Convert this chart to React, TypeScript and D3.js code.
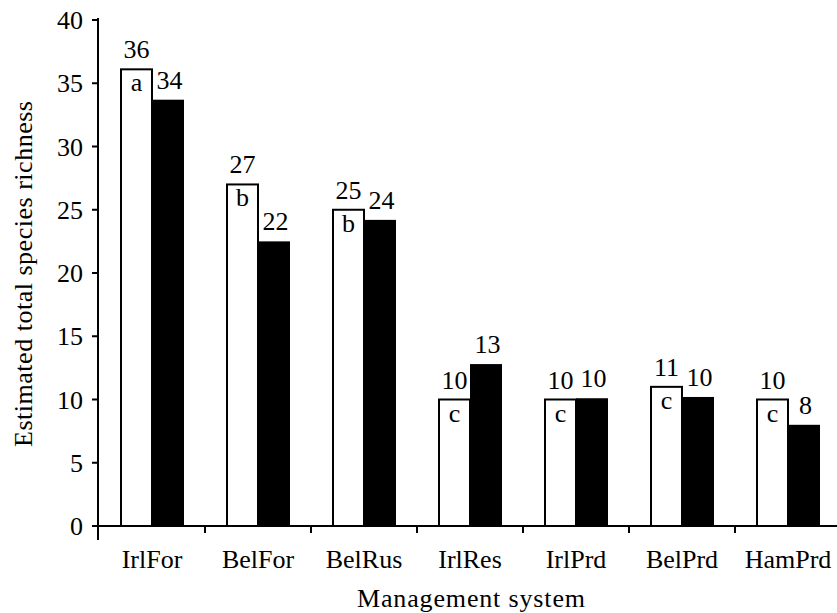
import React from "react";
import * as d3 from "d3";

const categories = ["IrlFor", "BelFor", "BelRus", "IrlRes", "IrlPrd", "BelPrd", "HamPrd"];
const whiteValues = [36.1, 27.0, 25.0, 10.0, 10.0, 11.0, 10.0];
const blackValues = [33.7, 22.5, 24.2, 12.8, 10.1, 10.2, 8.0];
const whiteLabels = ["36", "27", "25", "10", "10", "11", "10"];
const blackLabels = ["34", "22", "24", "13", "10", "10", "8"];
const groupLetters = ["a", "b", "b", "c", "c", "c", "c"];
const yTicks = [0, 5, 10, 15, 20, 25, 30, 35, 40];
const series = ["white", "black"];

const W = 837;
const H = 613;
const FONT = "'Liberation Serif', 'DejaVu Serif', serif";

export default function App() {
  const y = d3.scaleLinear().domain([0, 40]).range([526, 20]);
  const x = d3.scaleBand().domain(categories).range([99, 841]).paddingInner(0).paddingOuter(0);
  const bw = x.bandwidth();
  const inner = d3.scaleBand().domain(series).range([(bw - 62) / 2, (bw + 62) / 2]);
  const ib = inner.bandwidth();
  const axisX = 98;
  const y0 = y(0);
  const fs = 26;

  return (
    <svg width={W} height={H} style={{ position: "absolute", left: 0, top: 0, background: "#fff" }} fontFamily={FONT}>
      <rect x={0} y={0} width={W} height={H} fill="#fff" />
      {categories.map((c, i) => {
        const gx = x(c)!;
        const wx = gx + inner("white")!;
        const bx = gx + inner("black")!;
        const wy = y(whiteValues[i]);
        const by = y(blackValues[i]);
        return (
          <g key={c}>
            <rect x={bx} y={by} width={ib + 1} height={y0 - by} fill="#000" />
            <rect x={wx} y={wy} width={ib} height={y0 - wy} fill="#fff" stroke="#000" strokeWidth={2} />
            <text x={wx + ib / 2} y={wy - 11} fontSize={fs} textAnchor="middle" fill="#000">{whiteLabels[i]}</text>
            <text x={bx + ib / 2 + 2} y={by - 11} fontSize={fs} textAnchor="middle" fill="#000">{blackLabels[i]}</text>
            <text x={wx + ib / 2} y={wy + 22} fontSize={fs} textAnchor="middle" fill="#000">{groupLetters[i]}</text>
          </g>
        );
      })}
      <line x1={axisX} x2={W} y1={y0} y2={y0} stroke="#000" strokeWidth={2} />
      {categories.slice(1).map((c) => (
        <line key={c} x1={x(c)!} x2={x(c)!} y1={y0} y2={y0 + 7} stroke="#000" strokeWidth={2} />
      ))}
      {categories.map((c) => (
        <text key={c} x={x(c)! + bw / 2} y={568} fontSize={fs} textAnchor="middle" fill="#000">{c}</text>
      ))}
      <text x={471} y={607} fontSize={fs} textAnchor="middle" textLength={228} lengthAdjust="spacing" fill="#000">Management system</text>
      <line x1={axisX} x2={axisX} y1={18} y2={540} stroke="#000" strokeWidth={2} />
      {yTicks.map((t) => (
        <g key={t}>
          <line x1={axisX - 6} x2={axisX} y1={y(t)} y2={y(t)} stroke="#000" strokeWidth={2} />
          <text x={83} y={y(t)} dy="0.35em" fontSize={fs} textAnchor="end" fill="#000">{t}</text>
        </g>
      ))}
      <text transform={`translate(32,274) rotate(-90)`} fontSize={fs} textAnchor="middle" textLength={346} lengthAdjust="spacing" fill="#000">Estimated total species richness</text>
    </svg>
  );
}
